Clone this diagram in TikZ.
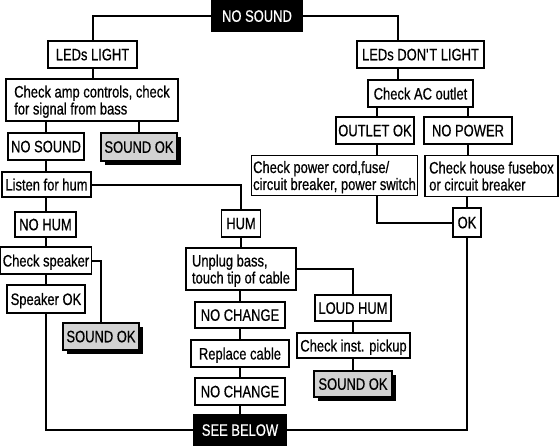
\documentclass[tikz,border=0pt]{standalone}
\usepackage{fontspec}
\setmainfont{Liberation Sans}[FakeStretch=0.785, FakeBold=0.6]
\usetikzlibrary{shadows}
\definecolor{boxgray}{RGB}{210,210,210}
\tikzset{
  box/.style={draw=black, line width=1.2pt, fill=white, inner xsep=5pt, inner ysep=2pt,
    font=\fontsize{16.5}{17}\selectfont, align=left, text depth=0pt},
  darkbox/.style={box, fill=black, text=white},
  okbox/.style={box, fill=boxgray,
    drop shadow={shadow xshift=4pt, shadow yshift=-4pt, opacity=1, fill=black}},
  conn/.style={line width=2pt, line join=miter}
}
\begin{document}
\begin{tikzpicture}[x=1pt,y=-1pt]
\useasboundingbox (0,0) rectangle (559,445);
% nodes
\node[darkbox, minimum width=90, minimum height=30] (top) at (257,16) {NO SOUND};
\node[box, minimum width=89, minimum height=27] (ledl) at (92.5,54.5) {LEDs LIGHT};
\node[box, minimum width=172, minimum height=42] (amp) at (92,100) {Check amp controls, check\\for signal from bass};
\node[box, minimum width=76, minimum height=27, inner xsep=1pt] (ns2) at (46,146.5) {NO SOUND};
\node[okbox, minimum width=76, minimum height=28, inner xsep=2pt] (sok1) at (139,147) {SOUND OK};
\node[box, minimum width=89, minimum height=25, inner xsep=2pt] (listen) at (46.5,184.5) {Listen for hum};
\node[box, minimum width=61, minimum height=25, inner xsep=2pt] (nohum) at (45.5,224.5) {NO HUM};
\node[box, minimum width=90, minimum height=27, inner xsep=2pt] (chkspk) at (46,260.5) {Check speaker};
\node[box, minimum width=78, minimum height=28, inner xsep=2pt] (spkok) at (46,299) {Speaker OK};
\node[okbox, minimum width=76, minimum height=27, inner xsep=2pt] (sok2) at (101,336.5) {SOUND OK};
\node[box, minimum width=39, minimum height=27, inner xsep=2pt] (hum) at (241,223.5) {HUM};
\node[box, minimum width=110, minimum height=42, inner xsep=3pt] (unplug) at (241,269) {Unplug bass,\\touch tip of cable};
\node[box, minimum width=90, minimum height=26, inner xsep=2pt] (nc1) at (240,315) {NO CHANGE};
\node[box, minimum width=98, minimum height=27, inner xsep=2pt] (repl) at (240,353.5) {Replace cable};
\node[box, minimum width=90, minimum height=27, inner xsep=2pt] (nc2) at (240,391.5) {NO CHANGE};
\node[darkbox, minimum width=92, minimum height=30, inner xsep=2pt] (see) at (240,430) {SEE BELOW};
\node[box, minimum width=76, minimum height=26, inner xsep=2pt] (loud) at (353,308) {LOUD HUM};
\node[box, minimum width=113, minimum height=25, inner xsep=2pt] (pickup) at (353.5,345.5) {Check inst. pickup};
\node[okbox, minimum width=78, minimum height=26, inner xsep=2pt] (sok3) at (353,384) {SOUND OK};
\node[box, minimum width=127, minimum height=27, inner xsep=2pt] (ledd) at (420.5,54.5) {LEDs DON\textquotesingle T LIGHT};
\node[box, minimum width=105, minimum height=27, inner xsep=2pt] (ac) at (420.5,93.5) {Check AC outlet};
\node[box, minimum width=78, minimum height=27, inner xsep=2pt] (outok) at (375,130.5) {OUTLET OK};
\node[box, minimum width=88, minimum height=27, inner xsep=2pt] (nopow) at (468,130.5) {NO POWER};
\node[box, minimum width=159, minimum height=40, inner xsep=2pt] (cord) at (334.5,175.5) {Check power cord,fuse/\\circuit breaker, power switch};
\node[box, minimum width=133, minimum height=41, inner xsep=2pt] (house) at (491.5,176) {Check house fusebox\\or circuit breaker};
\node[box, minimum width=28, minimum height=29, inner xsep=2pt] (ok) at (467,222.5) {OK};
\coordinate (vx) at (398,0);
\coordinate (vy) at (377,0);
% connectors
\draw[conn] (top.west) -| (ledl.north);
\draw[conn] (top.east) -| (vx |- ledd.north);
\draw[conn] (ledl.south) -- (ledl.south |- amp.north);
\draw[conn] (ns2.north |- amp.south) -- (ns2.north);
\draw[conn] (sok1.north |- amp.south) -- (sok1.north);
\draw[conn] (ns2.south) -- (ns2.south |- listen.north);
\draw[conn] (listen.east) -| (hum.north);
\draw[conn] (nohum.north |- listen.south) -- (nohum.north);
\draw[conn] (nohum.south) -- (nohum.south |- chkspk.north);
\draw[conn] (chkspk.east) -| (sok2.north);
\draw[conn] (spkok.north |- chkspk.south) -- (spkok.north);
\draw[conn] (spkok.south) |- (see.west);
\draw[conn] (hum.south) -- (hum.south |- unplug.north);
\draw[conn] (nc1.north |- unplug.south) -- (nc1.north);
\draw[conn] (nc1.south) -- (repl.north);
\draw[conn] (repl.south) -- (nc2.north);
\draw[conn] (nc2.south) -- (see.north);
\draw[conn] (unplug.east) -| (loud.north);
\draw[conn] (loud.south) -- (loud.south |- pickup.north);
\draw[conn] (sok3.north |- pickup.south) -- (sok3.north);
\draw[conn] (see.east) -| (ok.south);
\draw[conn] (vx |- ledd.south) -- (vx |- ac.north);
\draw[conn] (vy |- ac.south) -- (vy |- outok.north);
\draw[conn] (nopow.north |- ac.south) -- (nopow.north);
\draw[conn] (vy |- outok.south) -- (vy |- cord.north);
\draw[conn] (nopow.south) -- (nopow.south |- house.north);
\draw[conn] (vy |- cord.south) |- (ok.west);
\draw[conn] (ok.north |- house.south) -- (ok.north);
\end{tikzpicture}
\end{document}
